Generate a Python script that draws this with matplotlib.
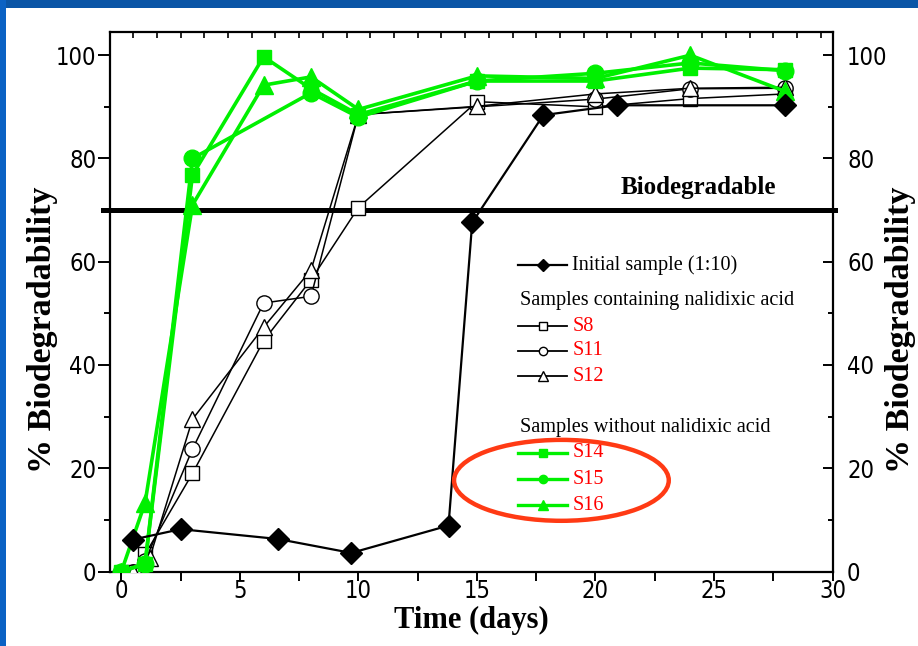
import numpy as np
import matplotlib
matplotlib.use("Agg")
import matplotlib.pyplot as plt
from matplotlib import font_manager as fm
from matplotlib.patches import Rectangle, Ellipse
from matplotlib.lines import Line2D

# ---- data: % biodegradability vs time (days) ----
initial_t = [0.5, 2.5, 6.6, 9.7, 13.8, 14.8, 17.8, 20.9, 28]
initial_v = [6.2, 8.2, 6.3, 3.6, 8.9, 67.6, 88.4, 90.3, 90.3]

s8_t = [0.5, 1, 3, 6, 8, 10, 15, 20, 24, 28]
s8_v = [0, 3.3, 19.0, 44.7, 56.5, 70.5, 91.0, 90.0, 91.6, 92.5]

s11_t = [0.5, 1, 3, 6, 8, 10, 20, 24, 28]
s11_v = [0, 2.0, 23.7, 52.0, 53.3, 88.5, 91.5, 93.5, 93.6]

s12_t = [0.5, 1.2, 3, 6, 8, 10, 15, 20, 24, 28]
s12_v = [0, 2.7, 29.5, 47.3, 58.4, 88.5, 90.1, 92.5, 93.6, 93.8]

s14_t = [0, 1, 3, 6, 8, 10, 15, 20, 24, 28]
s14_v = [0, 1.5, 76.8, 99.7, 93.5, 88.5, 95.0, 95.0, 97.5, 97.2]

s15_t = [0, 1, 3, 8, 10, 15, 20, 24, 28]
s15_v = [0, 1.5, 80.0, 92.7, 88.0, 95.0, 96.5, 98.5, 97.0]

s16_t = [0, 1, 3, 6, 8, 10, 15, 20, 24, 28]
s16_v = [0, 13.3, 71.0, 94.2, 95.8, 89.5, 96.0, 95.5, 100.0, 93.0]

BIODEGRADABLE_LEVEL = 70

x_ticks = [0, 5, 10, 15, 20, 25, 30]
y_ticks = [0, 20, 40, 60, 80, 100]

GREEN = "#00f000"
RED = "#ff0000"
SERIF = ["Liberation Serif", "DejaVu Serif"]

# narrow sans for the tick numbers, if one is available
_fonts = fm.fontManager.ttflist
if any(f.name == "Liberation Sans Narrow" for f in _fonts):
    TICK_FONT = dict(family="Liberation Sans Narrow", fontsize=18)
elif any(f.name == "DejaVu Sans" and f.stretch == "condensed" for f in _fonts):
    TICK_FONT = dict(family="DejaVu Sans", fontstretch="condensed", fontsize=17)
else:
    TICK_FONT = dict(family="Liberation Sans", fontsize=17)

fig = plt.figure(figsize=(9.18, 6.46), dpi=100)
fig.patch.set_facecolor("white")

# blue slide frame
fig.patches.append(Rectangle((0, 1 - 8 / 646), 1, 8 / 646, transform=fig.transFigure,
                             facecolor="#0a55a6", edgecolor="none", zorder=0))
fig.patches.append(Rectangle((0, 0), 6 / 918, 1, transform=fig.transFigure,
                             facecolor="#0b62c4", edgecolor="none", zorder=0))

ax = fig.add_axes([0.1193, 0.1153, 0.7876, 0.8352])
ax.set_xlim(-0.5, 30)
ax.set_ylim(0, 104.5)

open_kw = dict(color="black", lw=1.1, mfc="white", mec="black", mew=1.0)
ax.plot(s8_t, s8_v, marker="s", ms=10, **open_kw, zorder=3)
ax.plot(s11_t, s11_v, marker="o", ms=11, **open_kw, zorder=3)
ax.plot(s12_t, s12_v, marker="^", ms=12, **open_kw, zorder=3)

green_kw = dict(color=GREEN, lw=2.6, mfc=GREEN, mec=GREEN)
ax.plot(s14_t, s14_v, marker="s", ms=10, **green_kw, zorder=4)
ax.plot(s15_t, s15_v, marker="o", ms=12, **green_kw, zorder=4)
ax.plot(s16_t, s16_v, marker="^", ms=13, **green_kw, zorder=4)

ax.plot(initial_t, initial_v, color="black", lw=1.6, marker="D", ms=11,
        mfc="black", mec="black", zorder=5)

# biodegradability threshold
ax.axhline(BIODEGRADABLE_LEVEL, xmin=-0.009, xmax=1.004, color="black", lw=3.6,
           clip_on=False, zorder=2)
ax.text(0.815, 0.711, "Biodegradable", transform=ax.transAxes, ha="center", va="center",
        family=SERIF, fontweight="bold", fontsize=18)

# axes styling
for sp in ax.spines.values():
    sp.set_linewidth(1.6)
ax.set_xticks(x_ticks)
ax.set_xticks(np.arange(0, 30.01, 2.5), minor=True)
ax.set_yticks(y_ticks)
ax.set_yticks(np.arange(0, 101, 10), minor=True)
ax.tick_params(axis="x", which="both", direction="out", length=6.5, width=1.4, pad=-1)
ax.tick_params(axis="y", which="major", direction="out", length=9, width=1.4, pad=0.5,
               right=False)
ax.tick_params(axis="y", which="minor", direction="out", length=4.5, width=1.4,
               right=False)
ax.set_xticklabels([str(v) for v in x_ticks], **TICK_FONT)
ax.set_yticklabels([str(v) for v in y_ticks], **TICK_FONT)

ax.set_xlabel("Time (days)", family=SERIF, fontweight="bold", fontsize=22)
ax.xaxis.set_label_coords(0.5, -0.063)
ax.set_ylabel("% Biodegradability", family=SERIF, fontweight="bold", fontsize=24.5)
ax.yaxis.set_label_coords(-0.071, 0.448)

# right-hand scale: inward ticks, numbers and label
ax_r = ax.twinx()
ax_r.set_ylim(ax.get_ylim())
ax_r.set_yticks(y_ticks)
ax_r.set_yticks(np.arange(0, 101, 10), minor=True)
ax_r.tick_params(axis="y", which="major", direction="in", length=7, width=1.4, pad=10.5)
ax_r.tick_params(axis="y", which="minor", direction="in", length=3.6, width=1.4)
ax_r.set_yticklabels([str(v) for v in y_ticks], **TICK_FONT)
ax_r.set_ylabel("% Biodegradability", family=SERIF, fontweight="bold", fontsize=24.5)
ax_r.yaxis.set_label_coords(1.073, 0.448)
for sp in ax_r.spines.values():
    sp.set_visible(False)

# small inward ticks along the top
ax_t = ax.twiny()
ax_t.set_xlim(ax.get_xlim())
ax_t.set_xticks(np.arange(-0.5, 30, 1.0))
ax_t.tick_params(axis="x", direction="in", length=4, width=1.2, labeltop=False,
                 labelbottom=False)
for sp in ax_t.spines.values():
    sp.set_visible(False)

# legend, laid out in axes coordinates
h0, h1, hm = 0.565, 0.633, 0.599
tx = 0.640
hx = 0.568
LEG_SIZE = 14.6

def handle(y, color, marker, mfc, lw, ms):
    ax.add_line(Line2D([h0, h1], [y, y], color=color, lw=lw, transform=ax.transAxes,
                       clip_on=False, zorder=6))
    ax.add_line(Line2D([hm], [y], marker=marker, ms=ms, mfc=mfc, mec=color, mew=1.0,
                       color=color, transform=ax.transAxes, clip_on=False, zorder=7))

legend_rows = [
    (0.568, "Initial sample (1:10)", "black", "D", "black", 1.6, 6),
    (0.455, "S8", "black", "s", "white", 1.3, 5.5),
    (0.409, "S11", "black", "o", "white", 1.3, 6),
    (0.362, "S12", "black", "^", "white", 1.3, 6.5),
    (0.220, "S14", GREEN, "s", GREEN, 2.4, 5.5),
    (0.171, "S15", GREEN, "o", GREEN, 2.4, 6),
    (0.123, "S16", GREEN, "^", GREEN, 2.4, 6.5),
]
for y, label, col, mk, mfc, lw, ms in legend_rows:
    handle(y, col, mk, mfc, lw, ms)
    txt_color = "black" if label.startswith("Initial") else RED
    ax.text(tx, y, label, transform=ax.transAxes, ha="left", va="center",
            family=SERIF, fontsize=LEG_SIZE, color=txt_color)

ax.text(hx, 0.503, "Samples containing nalidixic acid", transform=ax.transAxes,
        ha="left", va="center", family=SERIF, fontsize=LEG_SIZE)
ax.text(hx, 0.266, "Samples without nalidixic acid", transform=ax.transAxes,
        ha="left", va="center", family=SERIF, fontsize=LEG_SIZE)

# highlight ring around the samples without nalidixic acid
ax.add_patch(Ellipse((0.625, 0.169), 0.297, 0.150, transform=ax.transAxes,
                     fill=False, edgecolor="#ff3a14", lw=3.2, clip_on=False, zorder=8))

fig.savefig("out.png", dpi=100, facecolor=fig.get_facecolor())
